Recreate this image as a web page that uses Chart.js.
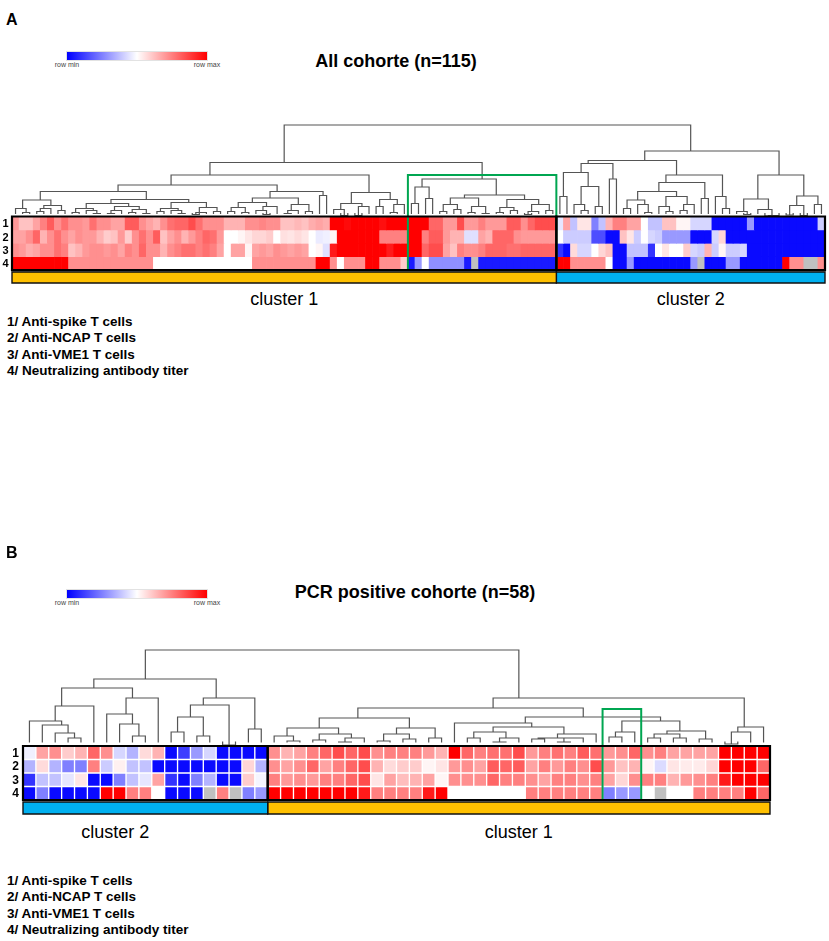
<!DOCTYPE html>
<html lang="en">
<head>
<meta charset="utf-8">
<title>Heatmaps</title>
<script src="https://cdn.jsdelivr.net/npm/chart.js@4.4.1/dist/chart.umd.min.js"></script>
<style>
  html, body { margin: 0; padding: 0; background: #fff; }
  body { position: relative; width: 829px; height: 941px; overflow: hidden; font-family: "Liberation Sans", Arial, sans-serif; color: #000; }
  canvas { position: absolute; left: 0; }
  .t { position: absolute; white-space: nowrap; line-height: 1; }
  .panel { font-size: 16px; font-weight: bold; }
  .title { font-size: 18px; font-weight: bold; }
  .scale { position: absolute; left: 67px; width: 140px; height: 8px; background: linear-gradient(to right, #0000ff, #ffffff 50%, #ff0000); box-shadow: 0 0 0 1px #e2e2e2; }
  .minmax { font-size: 7px; color: #444; }
  .row { font-weight: bold; }
  .cluster { font-size: 18px; }
  .list { font-size: 13.5px; font-weight: bold; }
</style>
</head>
<body>
<canvas id="chartA" width="829" height="161" style="top:123px"></canvas>
<canvas id="chartB" width="829" height="167" style="top:648px"></canvas>
<div class="scale" style="top:52px"></div>
<div class="scale" style="top:590px"></div>
<script>
// ---- data -------------------------------------------------------------
const rowLabels = ['1', '2', '3', '4'];
const markerNames = ['1/ Anti-spike T cells', '2/ Anti-NCAP T cells', '3/ Anti-VME1 T cells', '4/ Neutralizing antibody titer'];
const titleA = 'All cohorte (n=115)';
const titleB = 'PCR positive cohorte (n=58)';
const legendEnds = ['row min', 'row max'];

// row-normalised values (0 = row min, 1 = row max, null = missing), 115 patients
const spikeA = [0.70,0.62,0.62,0.68,0.75,0.82,0.72,0.78,0.72,0.72, 0.70,0.78,0.72,0.72,0.68,0.68,0.82,0.82,0.72,0.68,
  0.65,0.72,0.78,0.80,0.80,0.85,0.78,0.72,0.72,0.72, 0.65,0.65,0.65,0.72,0.72,0.74,0.72,0.72,0.62,0.62,
  0.64,0.62,0.66,0.68,0.66,1.00,1.00,0.98,1.00,1.00, 1.00,1.00,0.97,1.00,1.00,1.00,1.00,1.00,1.00,0.80,
  0.80,0.70,0.70,0.85,0.70,0.70,0.75,0.70,0.70,0.70, 0.82,0.82,0.72,0.80,0.85,0.85,0.85,0.45,0.68,0.38,
  0.55,0.55,0.25,0.38,0.65,0.75,0.75,0.68,0.68,0.50, 0.38,0.38,0.62,0.62,0.52,0.52,0.42,0.42,0.42,0.02,
  0.02,0.02,0.02,0.02,0.30,0.02,0.02,0.02,0.02,0.02, 0.02,0.02,0.02,0.02,0.40];
const ncapA = [0.68,0.68,0.72,0.80,0.65,0.72,0.78,0.72,0.68,0.72, 0.70,0.70,0.65,0.60,0.62,0.70,0.60,0.72,0.78,0.72,
  0.82,0.62,0.68,0.72,0.65,0.70,0.75,0.80,0.78,0.70, 0.50,0.50,0.52,0.55,0.58,0.58,0.60,0.50,0.56,0.55,
  0.57,0.55,0.50,0.46,0.47,0.52,1.00,1.00,1.00,1.00, 1.00,1.00,0.75,0.75,0.75,0.75,1.00,1.00,0.75,0.82,
  0.82,0.70,0.65,0.65,0.44,0.44,0.68,0.65,0.80,0.80, 0.80,0.72,0.70,0.70,0.70,0.70,0.70,0.50,0.40,0.40,
  0.40,0.40,0.15,0.15,0.02,0.02,0.62,0.55,0.40,0.50, 0.42,0.40,0.30,0.30,0.30,0.30,0.02,0.02,0.02,0.42,
  0.58,0.02,0.02,0.02,0.02,0.02,0.02,0.02,0.02,0.02, 0.02,0.02,0.02,0.02,0.02];
const vme1A = [0.72,0.70,0.66,0.68,0.72,0.72,0.78,0.75,0.62,0.65, 0.70,0.72,0.72,0.70,0.72,0.68,0.75,0.72,0.80,0.72,
  0.72,0.65,0.72,0.75,0.78,0.78,0.75,0.78,0.75,0.68, 0.50,0.68,0.68,0.52,0.68,0.70,0.68,0.72,0.70,0.68,
  0.70,0.68,0.50,0.52,0.44,0.95,1.00,1.00,1.00,1.00, 1.00,1.00,1.00,0.95,1.00,1.00,1.00,1.00,0.80,0.85,
  0.85,0.68,0.62,0.75,0.72,0.72,0.75,0.80,0.80,0.80, 0.78,0.78,0.80,0.80,0.80,0.80,0.80,0.10,0.02,0.57,
  0.42,0.42,0.50,0.58,0.62,0.02,0.02,0.38,0.38,0.38, 0.10,0.50,0.55,0.50,0.50,0.60,0.42,0.40,0.65,0.40,
  0.52,0.40,0.40,0.42,0.02,0.02,0.02,0.02,0.02,0.02, 0.02,0.02,0.02,0.02,0.02];
const nabA = [1.00,1.00,1.00,1.00,1.00,1.00,1.00,1.00,0.72,0.72, 0.72,0.72,0.72,0.72,0.72,0.72,0.72,0.72,0.72,0.72,
  0.50,0.50,0.50,0.50,0.50,0.50,0.50,0.50,0.50,0.50, 0.50,0.50,0.50,0.50,0.72,0.72,0.72,0.72,0.72,0.72,
  0.72,0.72,0.72,1.00,1.00,0.72,0.50,0.72,0.72,0.72, 1.00,1.00,0.72,0.72,0.72,0.60,0.05,0.30,0.50,0.28,
  0.28,0.28,0.28,0.28,0.05,null,0.05,0.05,0.05,0.05, 0.05,0.05,0.05,0.05,0.05,0.05,0.05,1.00,1.00,0.72,
  0.72,0.72,0.72,0.72,0.50,0.02,0.02,0.30,0.02,0.02, 0.02,0.02,0.02,0.02,0.02,0.02,0.30,null,0.02,0.02,
  0.02,0.30,0.30,0.02,0.02,0.02,0.02,0.02,0.02,1.00, 0.72,0.72,null,null,0.72];

// 58 PCR positive patients
const spikeB = [0.47,0.68,0.72,0.60,0.65,0.80,0.72,0.42,0.35,0.57, 0.65,0.02,0.12,0.30,0.42,0.02,0.02,0.02,0.02,
  0.72,0.65,0.68,0.75,0.80,0.85,0.80,0.85,0.72,0.75, 0.75,0.75,0.70,0.65,1.00,0.80,0.75,0.78,0.78,0.85,
  0.70,0.75,0.78,0.75,0.82,0.78,0.70,0.72,0.80,0.72, 0.75,0.68,0.68,0.68,0.68,1.00,1.00,1.00,1.00];
const ncapB = [0.35,0.57,0.35,0.25,0.25,0.75,0.40,0.53,0.38,0.38, 0.02,0.02,0.02,0.02,0.02,0.02,0.02,0.58,0.35,
  0.72,0.68,0.72,0.80,0.68,0.75,0.80,0.85,0.65,0.57, 0.60,0.60,0.52,0.55,0.70,0.72,0.68,0.82,0.80,0.82,
  0.68,0.75,0.70,0.75,0.72,0.85,0.70,0.62,0.65,0.52, 0.43,0.55,0.54,0.54,0.58,1.00,1.00,1.00,0.80];
const vme1B = [0.10,0.38,0.38,0.45,0.55,0.02,0.02,0.25,0.38,0.45, 0.68,0.10,0.02,0.25,0.35,0.02,0.02,0.60,0.48,
  0.75,0.70,0.72,0.70,0.75,0.75,0.80,0.85,0.55,0.68, 0.63,0.65,0.68,0.52,0.72,0.72,0.72,0.80,0.75,0.75,
  0.72,0.68,0.75,0.75,0.72,0.75,0.68,0.58,0.72,0.75, 0.75,0.65,0.70,0.72,0.75,0.95,1.00,1.00,1.00];
const nabB = [0.02,0.25,0.02,0.02,0.02,0.02,1.00,1.00,0.75,0.75, 0.50,0.02,0.02,0.02,null,0.75,null,0.25,0.30,
  1.00,1.00,1.00,1.00,1.00,1.00,1.00,0.95,0.75,0.75, 0.75,0.75,0.95,1.00,0.50,0.50,0.50,0.50,0.50,0.50,
  0.75,0.75,0.75,0.75,0.75,0.75,0.25,0.30,0.30,0.50, null,0.50,0.50,0.75,0.75,0.75,0.75,1.00,0.80];

// clusters, left to right
const clusterSizesA = [77, 38];
const clusterNamesA = ['cluster 1', 'cluster 2'];
const clusterSizesB = [19, 39];
const clusterNamesB = ['cluster 2', 'cluster 1'];
// highlighted (green) subtree: first column, last column, top height
const highlightA = [56, 76, 41.5];
const highlightB = [45, 47, 37];

// dendrograms: [merge height, left, right], leaf = 0
const L = 0;
const treeA = [91.5,
  [54,
    [41.5,
      [31.5,
        [25,
          [16.5, [8, L, [4, L, L]], [11, [8, [5, L, L], L], [6, L, L]]],
          [17,
            [13, [8, [4, L, L], [6, L, [3, L, L]]], [10, [6, [3, L, L], L], [7, [4, L, L], [3, L, L]]]],
            [14, [8, [5, L, L], [6, L, [3, L, L]]], [9, [4, [2, L, L], L], [5, L, L]]]]],
        [25,
          [18.5,
            [14, [9, [5, L, L], [4, L, L]], [10, [6, L, [2, L, L]], L]],
            [12, [6, [3, L, L], L], [5, L, L]]],
          [21, L, L]]],
      [24, [13, [7, L, [1, L, L]], [10, [1, L, L], L]], [17, [10, L, L], [12, [4, L, L], L]]]],
    [37.5,
      [29.5, [13, L, L], [18, L, L]],
      [21.5,
        [18.5, [12, [5, L, L], [7, L, L]], [10, [4, L, L], [3, L, L]]],
        [17, [9, [4, L, L], [6, L, L]], [12, [5, [2, L, L], L], [6, L, L]]]]]],
  [65.5,
    [56,
      [53, [44, [20, L, L], [30, [12, L, [6, L, L]], [10, L, L]]], [37.5, L, L]],
      [41.5,
        [34,
          [25, [16.5, [8, L, L], [12, L, [4, L, L]]], [20, [10, L, [5, L, L]], [12, [6, L, L], L]]],
          [18, L, L]],
        [20, L, [8, L, L]]]],
    [41.5,
      [17.5, [5, L, [2, L, L]], [7, L, [1, [0.5, L, L], L]]],
      [20.5, [11, [1.5, L, L], [0.8, L, L]], [12, L, L]]]]];

const treeB = [96,
  [67,
    [58,
      [40, [25, L, [21, L, [13, L, [8, L, L]]]], L],
      [48, [32, L, [22, L, [10, L, L]]], L]],
    [48, [41, [29, [14, L, L], [10, L, L]], [1, L, L]], [17, L, L]]],
  [48,
    [38,
      [28,
        [18, [10, L, [5, L, L]], [12, [6, L, L], [8, [4, L, L], L]]],
        [18, [12, [5, L, L], [7, L, L]], [8, L, L]]],
      [29,
        [23, L, [19, [14, [8, L, L], [8, [4, L, L], L]], [12, [8, [7, L, L], [8, [4, L, L], L]], L]]],
        [25, [14, [9, L, L], L], [15, [12, [8, L, L], [8, L, L]], [7, L, L]]]]],
    [19, [14, [2, L, L], L], L]]];

// ---- helpers ----------------------------------------------------------
const ORANGE = '#ffc000';
const SKY = '#00b0f0';

function heatColor(v) {
  if (v === null) return '#c0c0c0';
  if (v < 0.5) {
    const t = Math.round(255 * v / 0.5);
    return `rgb(${t},${t},255)`;
  }
  const t = Math.round(255 * (1 - (v - 0.5) / 0.5));
  return `rgb(255,${t},${t})`;
}

function rect(x0, x1, y0, y1) {
  return [{x: x0, y: y0}, {x: x1, y: y0}, {x: x1, y: y1}, {x: x0, y: y1}, {x: x0, y: y0}];
}

// leaves get consecutive columns, a node sits over the middle of its leaf range
function treeSegments(tree, leafY) {
  const pts = [];
  let next = 0;
  function walk(node) {
    if (node === L) {
      const i = next++;
      return {lo: i, hi: i, y: leafY};
    }
    const [h, a, b] = node;
    const l = walk(a), r = walk(b);
    const xl = (l.lo + l.hi) / 2, xr = (r.lo + r.hi) / 2;
    pts.push({x: xl, y: l.y}, {x: xl, y: h}, {x: xr, y: h}, {x: xr, y: r.y}, {x: xr, y: null});
    return {lo: l.lo, hi: r.hi, y: h};
  }
  walk(tree);
  return pts;
}

function lineSet(data, color, width, order, extra) {
  return Object.assign({
    type: 'line', data, borderColor: color, borderWidth: width, pointRadius: 0,
    fill: false, tension: 0, spanGaps: false, clip: false, order,
    borderCapStyle: 'square', borderJoinStyle: 'miter'
  }, extra || {});
}

function addText(txt, x, y, cls, centered, size) {
  const d = document.createElement('div');
  d.className = 't ' + cls;
  d.textContent = txt;
  d.style.left = x + 'px';
  d.style.top = y + 'px';
  if (size) d.style.fontSize = size + 'px';
  d.style.transform = centered ? 'translate(-50%,-50%)' : 'translate(0,-50%)';
  document.body.appendChild(d);
}

// ---- panels -----------------------------------------------------------
const panels = [
  { id: 'chartA', letter: 'A', title: titleA, top: 123, padLeft: 12, padRight: 4,
    yMin: -67.5, yMax: 93.5, rowH: 13.4, barY: [-55.5, -66.5], leafY: 3, cellBorder: 0,
    rows: [spikeA, ncapA, vme1A, nabA], sizes: clusterSizesA, names: clusterNamesA, colors: [ORANGE, SKY],
    tree: treeA, box: highlightA, nameShift: [0, 0],
    letterY: 20, legendY: 52, titleX: 396, titleY: 61, rowLabelX: 5.5, rowFont: 11, clusterY: 299, listY: 322 },
  { id: 'chartB', letter: 'B', title: titleB, top: 648, padLeft: 23, padRight: 59,
    yMin: -69, yMax: 98, rowH: 13.5, barY: [-56, -68], leafY: 4, cellBorder: 1,
    rows: [spikeB, ncapB, vme1B, nabB], sizes: clusterSizesB, names: clusterNamesB, colors: [SKY, ORANGE],
    tree: treeB, box: highlightB, nameShift: [-30, 0],
    letterY: 553, legendY: 590, titleX: 415, titleY: 592, rowLabelX: 15.5, rowFont: 12, clusterY: 832, listY: 881 }
];

panels.forEach(p => {
  const n = p.rows[0].length;
  const cols = p.rows[0].map((_, i) => i);
  const bottom = -p.rows.length * p.rowH;
  const datasets = [];

  // heatmap cells
  p.rows.forEach((vals, r) => {
    datasets.push({
      type: 'bar',
      data: vals.map((v, i) => ({x: i, y: [-(r + 1) * p.rowH, -r * p.rowH]})),
      backgroundColor: vals.map(heatColor),
      borderColor: '#ffffff', borderWidth: p.cellBorder, borderSkipped: false,
      grouped: false, barPercentage: 1, categoryPercentage: 1, order: 5
    });
  });

  // cluster outlines and colour bars
  let start = 0;
  p.sizes.forEach((size, k) => {
    const x0 = start - 0.5, x1 = start + size - 0.5;
    datasets.push(lineSet(rect(x0, x1, 0, bottom), '#000', 2.2, 0));
    datasets.push(lineSet(rect(x0, x1, p.barY[0], p.barY[1]), '#111', 1.4, 2,
      {fill: 'shape', backgroundColor: p.colors[k]}));
    start += size;
  });

  // dendrogram
  datasets.push(lineSet(treeSegments(p.tree, p.leafY), '#555', 1.2, 3));

  // highlighted subtree
  datasets.push(lineSet(rect(p.box[0] - 0.5, p.box[1] + 0.5, p.box[2], bottom), '#00a651', 2, 1));

  const chart = new Chart(document.getElementById(p.id), {
    type: 'bar',
    data: {datasets},
    options: {
      responsive: false,
      animation: false,
      events: [],
      layout: {padding: {left: p.padLeft, right: p.padRight, top: 0, bottom: 0}},
      plugins: {legend: {display: false}, tooltip: {enabled: false}},
      elements: {point: {radius: 0}},
      scales: {
        x: {
          type: 'linear', min: -0.5, max: n - 0.5, offset: false, display: false,
          afterBuildTicks: axis => { axis.ticks = cols.map(v => ({value: v})); }
        },
        y: {type: 'linear', min: p.yMin, max: p.yMax, display: false}
      }
    }
  });

  // texts
  const xs = chart.scales.x, ys = chart.scales.y;
  addText(p.letter, 6, p.letterY, 'panel', false);
  addText(p.title, p.titleX, p.titleY, 'title', true);
  addText(legendEnds[0], 67, p.legendY + 12, 'minmax', true);
  addText(legendEnds[1], 207, p.legendY + 12, 'minmax', true);
  rowLabels.forEach((lab, r) => {
    addText(lab, p.rowLabelX, p.top + ys.getPixelForValue(-(r + 0.5) * p.rowH), 'row', true, p.rowFont);
  });
  let s = 0;
  p.sizes.forEach((size, k) => {
    const mid = xs.getPixelForValue(s + (size - 1) / 2) + p.nameShift[k];
    addText(p.names[k], mid, p.clusterY, 'cluster', true);
    s += size;
  });
  markerNames.forEach((name, j) => addText(name, 7, p.listY + j * 16.4, 'list', false));
});
</script>
</body>
</html>
